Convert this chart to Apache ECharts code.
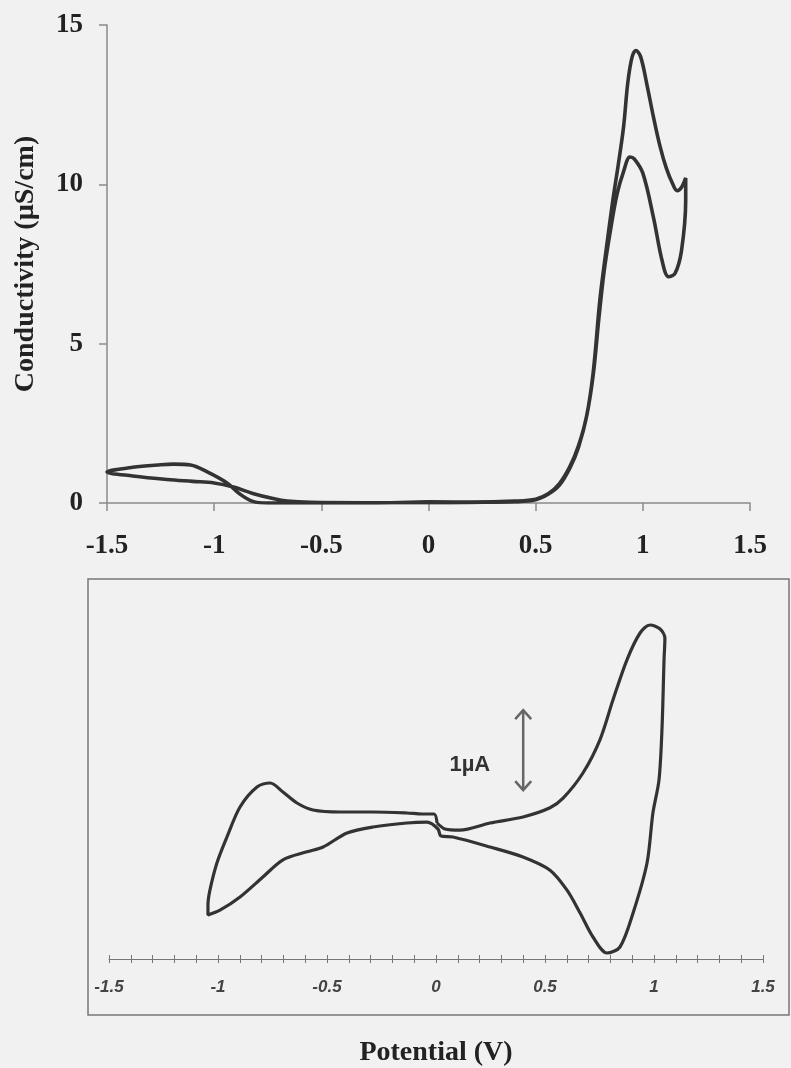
<!DOCTYPE html>
<html>
<head>
<meta charset="utf-8">
<script src="https://cdn.jsdelivr.net/npm/echarts@6/dist/echarts.min.js"></script>
<style>
  html, body { margin: 0; padding: 0; background: #f1f1f1; }
  #chart { width: 791px; height: 1068px; }
</style>
</head>
<body>
<div id="chart"></div>
<script>
// Conductivity trace, in scan order: potential (V) and conductivity (µS/cm)
const condPotential = [
  0, 0.2, 0.4, 0.5, 0.56, 0.61, 0.66, 0.7, 0.737, 0.768, 0.8, 0.83, 0.86, 0.885, 0.91, 0.93, 0.95, 0.968,
  0.99, 1.02, 1.05, 1.08, 1.11, 1.14, 1.16, 1.18, 1.2,
  1.2, 1.18, 1.15, 1.12, 1.09, 1.05, 1.0, 0.96, 0.94, 0.91, 0.88, 0.85, 0.82, 0.795, 0.77, 0.74, 0.7, 0.66,
  0.61, 0.56, 0.5, 0.4, 0.2, 0, -0.3, -0.55, -0.66, -0.72, -0.82, -0.91, -1.0, -1.1, -1.22, -1.38, -1.5,
  -1.38, -1.25, -1.19, -1.11, -1.03, -0.94, -0.88, -0.82, -0.75, -0.6, -0.3, 0
];
const condValue = [
  0.04, 0.03, 0.06, 0.12, 0.3, 0.6, 1.15, 1.8, 2.7, 4.07, 6.4, 8.0, 9.5, 10.6, 11.8, 13.2, 14.0, 14.2,
  14.0, 13.1, 12.1, 11.2, 10.5, 10.0, 9.8, 9.9, 10.2,
  9.5, 7.9, 7.2, 7.1, 7.6, 8.95, 10.35, 10.8, 10.86, 10.4, 9.7, 8.6, 7.3, 5.8, 4.1, 2.8, 1.75, 1.1,
  0.55, 0.28, 0.1, 0.04, 0.02, 0.01, 0.01, 0.02, 0.06, 0.13, 0.3, 0.5, 0.63, 0.68, 0.74, 0.85, 0.97,
  1.12, 1.2, 1.22, 1.19, 0.97, 0.63, 0.28, 0.05, 0.0, 0.0, 0.0, 0.04
];

// Cyclic voltammogram, in scan order: potential (V) and current (µA)
const cvPotential = [
  0.005, 0.041, 0.11, 0.248, 0.399, 0.523, 0.583, 0.674, 0.752, 0.812, 0.876, 0.936, 0.982, 1.028, 1.05,
  1.046, 1.037, 1.023, 0.995, 0.968, 0.904, 0.844, 0.784, 0.72, 0.661, 0.601, 0.523, 0.399, 0.248,
  0.078, 0.023, 0.009, -0.041, -0.133, -0.289, -0.408, -0.518, -0.592, -0.702, -0.794, -0.899, -0.991, -1.046,
  -1.046, -1.037, -1.005, -0.959, -0.899, -0.821, -0.761, -0.702, -0.638, -0.564, -0.44, -0.289,
  -0.133, -0.064, -0.009, 0.005
];
const cvCurrent = [
  -0.3, -0.375, -0.39, -0.3, -0.225, -0.11, 0.01, 0.325, 0.74, 1.24, 1.74, 2.075, 2.175, 2.125, 2.01,
  1.74, 0.9, 0.24, -0.175, -0.8, -1.425, -1.85, -1.925, -1.725, -1.425, -1.14, -0.89, -0.725, -0.6,
  -0.475, -0.4625, -0.375, -0.29, -0.3, -0.35, -0.425, -0.6, -0.66, -0.76, -0.975, -1.225, -1.39, -1.45,
  -1.325, -1.14, -0.8, -0.475, -0.1, 0.15, 0.2, 0.0875, -0.05, -0.1375, -0.1625, -0.1625,
  -0.175, -0.1875, -0.1875, -0.3
];

// Axis ticks
const condTicks = [0, 5, 10, 15];
const potentialTicks = [-1.5, -1, -0.5, 0, 0.5, 1, 1.5];

// Current scale bar: potential where it stands, lower and upper current (µA), caption
const scaleBarPotential = 0.4;
const scaleBarCurrent = [0.11, 1.11];
const scaleBarCaption = '1\u00b5A';

const zip = (xs, ys) => xs.map((x, i) => [x, ys[i]]);

const serif = '"Liberation Serif", "Times New Roman", serif';
const sans = '"Liberation Sans", Arial, sans-serif';
const axisGrey = '#8a8a8a';
const ink = '#333333';

const chart = echarts.init(document.getElementById('chart'), null, { renderer: 'canvas' });

const topLabel = {
  fontFamily: serif, fontWeight: 'bold', fontSize: 27, color: '#222'
};

chart.setOption({
  backgroundColor: '#f1f1f1',
  animation: false,
  grid: [
    { left: 107, right: 41, top: 25, bottom: 565 },
    { left: 109, right: 28, top: 599, bottom: 109 }
  ],
  xAxis: [
    {
      gridIndex: 0, type: 'value',
      min: potentialTicks[0], max: potentialTicks[potentialTicks.length - 1], interval: 0.5,
      axisLine: { onZero: false, lineStyle: { color: axisGrey, width: 1.5 } },
      axisTick: { show: true, length: 8, lineStyle: { color: axisGrey, width: 1.5 } },
      splitLine: { show: false },
      axisLabel: Object.assign({ margin: 30, formatter: v => String(v) }, topLabel)
    },
    {
      gridIndex: 1, type: 'value',
      min: potentialTicks[0], max: potentialTicks[potentialTicks.length - 1], interval: 0.5,
      name: 'Potential (V)', nameLocation: 'middle', nameGap: 80,
      nameTextStyle: { fontFamily: serif, fontWeight: 'bold', fontSize: 28, color: '#222' },
      axisLine: { onZero: false, lineStyle: { color: '#777', width: 1 } },
      axisTick: { show: true, length: 4, lineStyle: { color: '#777' } },
      minorTick: { show: true, splitNumber: 5, length: 4, lineStyle: { color: '#777' } },
      splitLine: { show: false },
      axisLabel: {
        margin: 20, fontFamily: sans, fontWeight: 'bold', fontStyle: 'italic',
        fontSize: 17, color: '#444', formatter: v => String(v)
      }
    },
    {
      gridIndex: 1, type: 'value', position: 'bottom',
      min: potentialTicks[0], max: potentialTicks[potentialTicks.length - 1], interval: 0.5,
      axisLine: { show: false, onZero: false },
      axisTick: { show: true, inside: true, length: 4, lineStyle: { color: '#777' } },
      minorTick: { show: true, splitNumber: 5, length: 4, lineStyle: { color: '#777' } },
      splitLine: { show: false },
      axisLabel: { show: false }
    }
  ],
  yAxis: [
    {
      gridIndex: 0, type: 'value',
      min: condTicks[0], max: condTicks[condTicks.length - 1], interval: 5,
      name: 'Conductivity (\u00b5S/cm)', nameLocation: 'middle', nameGap: 67,
      nameTextStyle: { fontFamily: serif, fontWeight: 'bold', fontSize: 28, color: '#222' },
      axisLine: { show: true, onZero: false, lineStyle: { color: axisGrey, width: 1.5 } },
      axisTick: { show: true, length: 8, lineStyle: { color: axisGrey, width: 1.5 } },
      splitLine: { show: false },
      axisLabel: Object.assign({ margin: 24 }, topLabel)
    },
    {
      gridIndex: 1, type: 'value', min: -2, max: 2.5, show: false
    }
  ],
  graphic: [
    {
      type: 'rect', z: -1, silent: true,
      shape: { x: 88, y: 579, width: 701, height: 436 },
      style: { fill: 'none', stroke: '#777', lineWidth: 1.5 }
    }
  ],
  series: [
    {
      type: 'line', xAxisIndex: 0, yAxisIndex: 0,
      data: zip(condPotential, condValue),
      smooth: 0.35, showSymbol: false,
      lineStyle: { color: ink, width: 3.6 }
    },
    {
      type: 'line', xAxisIndex: 1, yAxisIndex: 1,
      data: zip(cvPotential, cvCurrent),
      smooth: 0.3, showSymbol: false,
      lineStyle: { color: ink, width: 3.2 }
    },
    {
      // 1 µA scale bar with arrowheads at both ends and its caption
      type: 'custom', xAxisIndex: 1, yAxisIndex: 1,
      data: [[scaleBarPotential, scaleBarCurrent[0], scaleBarCurrent[1]]],
      renderItem: (params, api) => {
        const lo = api.coord([api.value(0), api.value(1)]);
        const hi = api.coord([api.value(0), api.value(2)]);
        const head = 9, spread = 8;
        const stroke = { stroke: '#666', lineWidth: 2.5, fill: 'none' };
        return {
          type: 'group',
          children: [
            { type: 'line', shape: { x1: lo[0], y1: lo[1], x2: hi[0], y2: hi[1] }, style: stroke },
            { type: 'polyline', shape: { points: [[hi[0] - spread, hi[1] + head], [hi[0], hi[1]], [hi[0] + spread, hi[1] + head]] }, style: stroke },
            { type: 'polyline', shape: { points: [[lo[0] - spread, lo[1] - head], [lo[0], lo[1]], [lo[0] + spread, lo[1] - head]] }, style: stroke },
            {
              type: 'text',
              style: {
                x: lo[0] - 33, y: (lo[1] + hi[1]) / 2 + 15,
                text: scaleBarCaption, align: 'right', verticalAlign: 'middle',
                font: 'bold 22px ' + sans, fill: '#333'
              }
            }
          ]
        };
      }
    }
  ]
});
</script>
</body>
</html>
